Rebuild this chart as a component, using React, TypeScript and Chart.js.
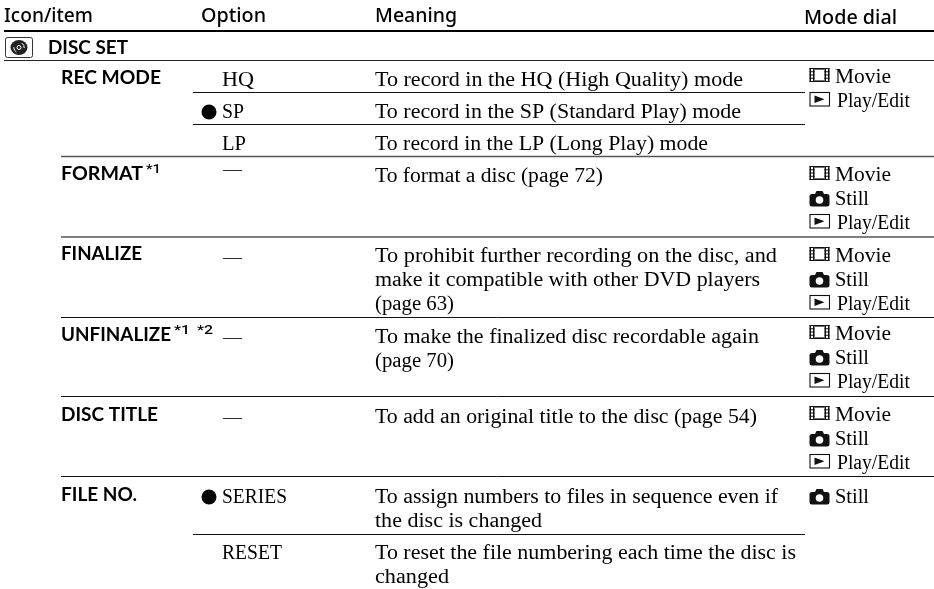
import React, { useEffect, useRef } from "react";
import { Chart, registerables } from "chart.js";

Chart.register(...registerables);

// ---- table contents ----
const headerLabels = ["Icon/item", "Option", "Meaning", "Mode dial"];
const sectionLabel = "DISC SET";
const itemLabels = ["REC MODE", "FORMAT", "FINALIZE", "UNFINALIZE", "DISC TITLE", "FILE NO."];
const footnoteLabels = ["*1", "*1", "*2"];
const optionLabels = ["HQ", "SP", "LP", "SERIES", "RESET"];
const dashLabel = "—";
const meaningLines = [
  "To record in the HQ (High Quality) mode",
  "To record in the SP (Standard Play) mode",
  "To record in the LP (Long Play) mode",
  "To format a disc (page 72)",
  "To prohibit further recording on the disc, and",
  "make it compatible with other DVD players",
  "(page 63)",
  "To make the finalized disc recordable again",
  "(page 70)",
  "To add an original title to the disc (page 54)",
  "To assign numbers to files in sequence even if",
  "the disc is changed",
  "To reset the file numbering each time the disc is",
  "changed",
];
const modeNames = ["Movie", "Still", "Play/Edit"];
// which mode-dial entries each row lists (index into modeNames)
const modeRows = [[0, 2], [0, 1, 2], [0, 1, 2], [0, 1, 2], [0, 1, 2], [1]];

// ---- layout (page pixels on the hidden scales) ----
const W = 934;
const H = 589;
const headerX = [[4, 93, 22], [201, 266, 22], [375, 457, 22], [804, 897, 24]];
const sectionPos = [48, 128, 54];
const itemPos = [[61, 161, 84], [61, 143, 180], [61, 142, 260], [61, 171, 341], [61, 158, 421], [61, 137, 501]];
const footPos = [[146, 161, 173], [174, 190, 334], [197, 213, 334]];
const optionPos = [[222, 254, 86], [222, 244, 118], [222, 246, 150], [222, 287, 503], [222, 282, 559]];
const bulletPos = [[209, 112], [209, 497]];
const dashPos = [[223, 242, 174], [223, 242, 262], [223, 242, 342], [223, 242, 422]];
const meaningPos = [
  [743, 86], [741, 118], [708, 150], [603, 182], [777, 262], [760, 286], [454, 310],
  [759, 343], [454, 367], [757, 423], [778, 503], [542, 527], [796, 559], [449, 583],
];
const modeBaselines = [[83, 107], [181, 205, 229], [262, 286, 310], [340, 364, 388], [421, 445, 469], [503]];
const ruleY = [31, 60.5, 92.5, 124.5, 156.5, 237, 317.5, 396.5, 476.5, 534.5];
const ruleStart = [4, 4, 193, 193, 61, 61, 61, 61, 61, 193];
const ruleEnd = [934, 934, 805, 805, 934, 934, 934, 934, 934, 805];
const ruleWidth = [2, 1, 1, 1, 1.6, 1.6, 1, 1, 1, 1];
const ruleColor = ["#000", "#222", "#111", "#111", "#555", "#555", "#111", "#111", "#111", "#111"];

const SANS = '700 18px "Lato"';
const HEAD = '500 19px "Noto Sans"';
const SERIF = '20px "Liberation Serif"';

const tablePlugin = {
  id: "tableText",
  afterDatasetsDraw(chart: any) {
    const { ctx, scales } = chart;
    const px = (v: number) => scales.x.getPixelForValue(v);
    const py = (v: number) => scales.y.getPixelForValue(v);
    const text = (t: string, x0: number, x1: number, y: number, font: string) => {
      ctx.save();
      ctx.font = font;
      ctx.fillStyle = "#000";
      ctx.textBaseline = "alphabetic";
      ctx.textAlign = "left";
      const w = ctx.measureText(t).width;
      ctx.translate(px(x0), py(y));
      ctx.scale((px(x1) - px(x0)) / w, 1);
      ctx.fillText(t, 0, 0);
      ctx.restore();
    };
    headerLabels.forEach((t, i) => text(t, headerX[i][0], headerX[i][1], headerX[i][2], HEAD));
    text(sectionLabel, sectionPos[0], sectionPos[1], sectionPos[2], SANS);
    itemLabels.forEach((t, i) => text(t, itemPos[i][0], itemPos[i][1], itemPos[i][2], SANS));
    footnoteLabels.forEach((t, i) => text(t, footPos[i][0], footPos[i][1], footPos[i][2], '500 12px "Roboto"'));
    optionLabels.forEach((t, i) => text(t, optionPos[i][0], optionPos[i][1], optionPos[i][2], SERIF));
    dashPos.forEach((d) => text(dashLabel, d[0], d[1], d[2], '16px "Liberation Serif"'));
    meaningLines.forEach((t, i) => text(t, 375, meaningPos[i][0], meaningPos[i][1], SERIF));

    const ink = "#111";
    const film = (b: number) => {
      const x = px(809.5), y = py(b - 15), w = 20, h = 14;
      ctx.save();
      ctx.fillStyle = ink;
      ctx.fillRect(x + 5, y, w - 10, 1.6);
      ctx.fillRect(x + 5, y + h - 1.6, w - 10, 1.6);
      [0, 15].forEach((dx) => {
        ctx.fillRect(x + dx, y, 1.5, h);
        ctx.fillRect(x + dx + 3.5, y, 1.5, h);
        for (let k = 0; k <= 4; k++) ctx.fillRect(x + dx, y + k * 3.25, 5, 1);
      });
      ctx.restore();
    };
    const camera = (b: number) => {
      const x = px(809.5), y = py(b - 11), w = 20, h = 12.5;
      ctx.save();
      ctx.fillStyle = ink;
      ctx.beginPath();
      ctx.roundRect(x, y, w, h, 2.5);
      ctx.fill();
      ctx.beginPath();
      ctx.moveTo(x + 5, y + 1);
      ctx.lineTo(x + 7, y - 3);
      ctx.lineTo(x + 13, y - 3);
      ctx.lineTo(x + 15, y + 1);
      ctx.fill();
      ctx.fillStyle = "#fff";
      ctx.beginPath();
      ctx.arc(x + 10, y + 6, 3.8, 0, Math.PI * 2);
      ctx.fill();
      ctx.restore();
    };
    const play = (b: number) => {
      const x = px(809.5), y = py(b - 15), w = 19.5, h = 13.5;
      ctx.save();
      ctx.strokeStyle = ink;
      ctx.lineWidth = 1.1;
      ctx.strokeRect(x + 0.5, y + 0.5, w, h);
      ctx.fillStyle = ink;
      ctx.beginPath();
      ctx.moveTo(x + 5, y + 3.5);
      ctx.lineTo(x + 15, y + 7.2);
      ctx.lineTo(x + 5, y + 11);
      ctx.fill();
      ctx.restore();
    };
    const glyphs = [film, camera, play];
    const nameStart = [835, 835, 837];
    const nameEnd = [891, 869, 910];
    modeRows.forEach((row, r) =>
      row.forEach((m, k) => {
        const b = modeBaselines[r][k];
        glyphs[m](b);
        text(modeNames[m], nameStart[m], nameEnd[m], b, SERIF);
      })
    );

    // disc icon of the section row
    const x = px(5), y = py(37);
    ctx.save();
    ctx.strokeStyle = "#333";
    ctx.lineWidth = 1;
    ctx.beginPath();
    ctx.roundRect(x + 0.5, y + 0.5, 27, 20, 2);
    ctx.stroke();
    ctx.fillStyle = "#222";
    ctx.beginPath();
    ctx.ellipse(x + 14, y + 10.5, 8.5, 7.5, 0, 0, Math.PI * 2);
    ctx.fill();
    ctx.strokeStyle = "#fff";
    ctx.lineWidth = 1;
    ctx.beginPath();
    ctx.arc(x + 14, y + 10.5, 2, 0, Math.PI * 2);
    ctx.stroke();
    ctx.beginPath();
    ctx.arc(x + 14, y + 10.5, 5.2, -1.0, 0.1);
    ctx.stroke();
    ctx.beginPath();
    ctx.arc(x + 14, y + 10.5, 5.2, 2.1, 3.2);
    ctx.stroke();
    ctx.restore();
  },
};

export default function App() {
  const ref = useRef<HTMLCanvasElement>(null);
  useEffect(() => {
    if (!ref.current) return;
    const rules = ruleY.map((y, i) => ({
      type: "line" as const,
      data: [{ x: ruleStart[i], y }, { x: ruleEnd[i], y }],
      borderColor: ruleColor[i],
      borderWidth: ruleWidth[i],
      pointRadius: 0,
      fill: false,
    }));
    const bullets = {
      type: "scatter" as const,
      data: bulletPos.map(([x, y]) => ({ x, y })),
      backgroundColor: "#000",
      borderWidth: 0,
      pointRadius: 7.5,
    };
    const chart = new Chart(ref.current, {
      type: "scatter",
      data: { datasets: [...rules, bullets] as any },
      plugins: [tablePlugin],
      options: {
        animation: false,
        responsive: false,
        layout: { padding: 0, autoPadding: false },
        plugins: { legend: { display: false }, tooltip: { enabled: false } },
        scales: {
          x: { type: "linear", display: false, min: 0, max: W },
          y: { type: "linear", display: false, min: 0, max: H, reverse: true },
        },
      },
    });
    return () => chart.destroy();
  }, []);
  return (
    <div style={{ position: "fixed", left: 0, top: 0, width: W, height: H, background: "#fff" }}>
      <canvas ref={ref} width={W} height={H} style={{ display: "block" }} />
    </div>
  );
}
